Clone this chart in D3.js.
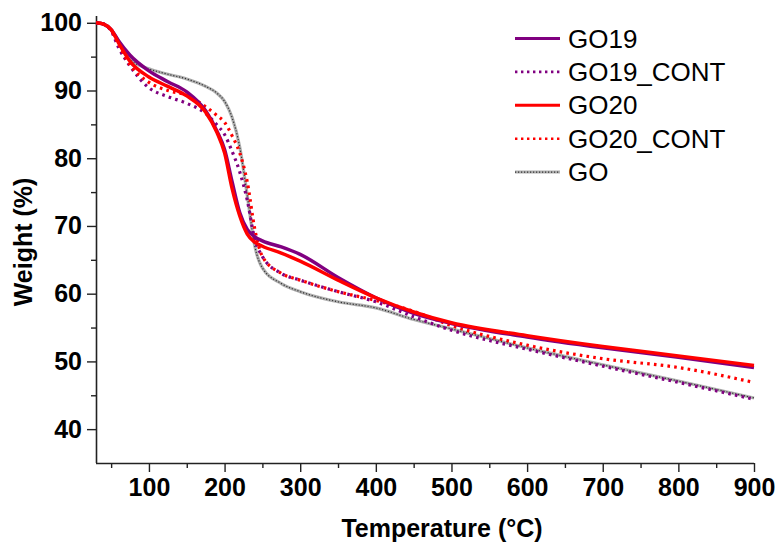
<!DOCTYPE html>
<html>
<head>
<meta charset="utf-8">
<script src="https://cdn.jsdelivr.net/npm/d3@7"></script>
<style>
  html, body { margin: 0; padding: 0; background: #fff; }
  svg { display: block; }
</style>
</head>
<body>
<svg id="chart" width="779" height="543"></svg>
<script>
// ---- data ----
const temperatures = [30, 40, 50, 60, 75, 100, 125, 150, 175, 190, 200, 210, 220, 230, 240, 250, 275, 300, 350, 400, 450, 500, 600, 700, 800, 900];
const go19 =      [100, 99.8, 99.0, 97.3, 95.2, 92.9, 91.3, 89.8, 87.0, 84.0, 81.3, 76.5, 72.0, 69.5, 68.4, 67.8, 66.9, 65.8, 62.4, 59.4, 57.1, 55.6, 53.6, 52.0, 50.6, 49.1];
const go19Cont =  [100, 99.8, 98.8, 96.3, 93.6, 90.4, 89.1, 88.1, 86.6, 84.9, 83.5, 81.0, 78.0, 73.8, 68.0, 65.5, 63.0, 62.0, 60.3, 58.8, 56.6, 54.6, 51.8, 49.3, 46.9, 44.4];
const go20 =      [100, 99.8, 99.0, 97.0, 94.3, 92.0, 90.6, 89.2, 86.8, 83.8, 80.8, 75.5, 71.5, 68.8, 67.6, 67.0, 66.0, 64.8, 62.0, 59.4, 57.3, 55.7, 53.8, 52.2, 50.8, 49.4];
const go20Cont =  [100, 99.8, 98.9, 96.8, 93.8, 91.2, 90.0, 89.3, 87.6, 86.3, 85.3, 83.3, 80.8, 76.5, 69.5, 65.5, 63.0, 62.0, 60.3, 59.0, 57.4, 55.3, 52.4, 50.4, 49.1, 46.9];
const goRef =     [100, 99.8, 99.0, 97.3, 94.6, 93.2, 92.4, 91.7, 90.6, 89.6, 88.4, 86.0, 81.7, 74.5, 67.0, 63.8, 61.5, 60.3, 58.8, 57.9, 56.2, 54.8, 52.0, 49.5, 47.1, 44.6];

const seriesNames = ["GO19", "GO19_CONT", "GO20", "GO20_CONT", "GO"];
const xTicks = [100, 200, 300, 400, 500, 600, 700, 800, 900];
const xMinorTicks = [50, 150, 250, 350, 450, 550, 650, 750, 850];
const yTicks = [40, 50, 60, 70, 80, 90, 100];
const yMinorTicks = [45, 55, 65, 75, 85, 95];

const series = [
  { name: "GO",        values: goRef,    color: "#9a9a9a", kind: "go" },
  { name: "GO19_CONT", values: go19Cont, color: "#800080", kind: "dot" },
  { name: "GO20_CONT", values: go20Cont, color: "#ff0000", kind: "dot" },
  { name: "GO19",      values: go19,     color: "#800080", kind: "solid" },
  { name: "GO20",      values: go20,     color: "#ff0000", kind: "solid" }
];

// ---- layout ----
const svg = d3.select("#chart");
const mLeft = 96, mRight = 754, mTop = 16, mBottom = 463;
const x = d3.scaleLinear().domain([30, 900]).range([mLeft, mRight]);
const y = d3.scaleLinear().domain([35, 101]).range([mBottom, mTop]);

const font = "'Liberation Sans', Arial, Helvetica, sans-serif";

// ---- axes ----
const xAxis = svg.append("g").attr("transform", `translate(0,${mBottom})`)
  .call(d3.axisBottom(x).tickValues(xTicks).tickSize(9).tickPadding(6).tickFormat(d3.format("d")));
const xMinor = svg.append("g").attr("transform", `translate(0,${mBottom})`)
  .call(d3.axisBottom(x).tickValues(xMinorTicks).tickSize(5).tickFormat(""));
const yAxis = svg.append("g").attr("transform", `translate(${mLeft},0)`)
  .call(d3.axisLeft(y).tickValues(yTicks).tickSize(9).tickPadding(5).tickFormat(d3.format("d")));
const yMinor = svg.append("g").attr("transform", `translate(${mLeft},0)`)
  .call(d3.axisLeft(y).tickValues(yMinorTicks).tickSize(5).tickFormat(""));

[xAxis, xMinor, yAxis, yMinor].forEach(g => {
  g.selectAll("path.domain").attr("stroke", "#222").attr("stroke-width", 1.6);
  g.selectAll(".tick line").attr("stroke", "#222").attr("stroke-width", 1.4);
});
xMinor.select("path.domain").remove();
yMinor.select("path.domain").remove();
xAxis.select("path.domain").attr("d", `M${mLeft},0.5H${mRight}`);
yAxis.select("path.domain").attr("d", `M0.5,${mBottom}V${mTop}`);

xAxis.selectAll(".tick text")
  .attr("font-family", font).attr("font-weight", "bold").attr("font-size", 25).attr("fill", "#000");
yAxis.selectAll(".tick text")
  .attr("font-family", font).attr("font-weight", "bold").attr("font-size", 25).attr("fill", "#000");

// ---- axis titles ----
svg.append("text")
  .attr("x", 442).attr("y", 537)
  .attr("text-anchor", "middle")
  .attr("font-family", font).attr("font-weight", "bold").attr("font-size", 25)
  .text("Temperature (°C)");

svg.append("text")
  .attr("transform", "translate(32,242) rotate(-90)")
  .attr("text-anchor", "middle")
  .attr("font-family", font).attr("font-weight", "bold").attr("font-size", 25)
  .text("Weight (%)");

// ---- lines ----
const line = d3.line()
  .x((d, i) => x(temperatures[i]))
  .y(d => y(d))
  .curve(d3.curveMonotoneX);

const plot = svg.append("g");
series.forEach(s => {
  if (s.kind === "go") {
    plot.append("path").attr("d", line(s.values))
      .attr("fill", "none").attr("stroke", "#b0b0b0").attr("stroke-width", 3.2);
    plot.append("path").attr("d", line(s.values))
      .attr("fill", "none").attr("stroke", "#333").attr("stroke-width", 1.2)
      .attr("stroke-dasharray", "1.2,1.8");
  } else if (s.kind === "dot") {
    plot.append("path").attr("d", line(s.values))
      .attr("fill", "none").attr("stroke", s.color).attr("stroke-width", 3.2)
      .attr("stroke-dasharray", "2.6,4.2");
  } else {
    plot.append("path").attr("d", line(s.values))
      .attr("fill", "none").attr("stroke", s.color).attr("stroke-width", 3.5);
  }
});

// ---- legend ----
const legendOrder = seriesNames.map(n => series.find(s => s.name === n));
const legend = svg.append("g");
legendOrder.forEach((s, i) => {
  const cy = 38.5 + i * 33.4;
  const g = legend.append("g");
  if (s.kind === "go") {
    g.append("line").attr("x1", 515).attr("x2", 560).attr("y1", cy).attr("y2", cy)
      .attr("stroke", "#b0b0b0").attr("stroke-width", 3);
    g.append("line").attr("x1", 515).attr("x2", 560).attr("y1", cy).attr("y2", cy)
      .attr("stroke", "#333").attr("stroke-width", 1.2).attr("stroke-dasharray", "1.2,1.8");
  } else if (s.kind === "dot") {
    g.append("line").attr("x1", 515).attr("x2", 560).attr("y1", cy).attr("y2", cy)
      .attr("stroke", s.color).attr("stroke-width", 2.6).attr("stroke-dasharray", "2.4,3.6");
  } else {
    g.append("line").attr("x1", 515).attr("x2", 560).attr("y1", cy).attr("y2", cy)
      .attr("stroke", s.color).attr("stroke-width", 3);
  }
  g.append("text").attr("x", 568).attr("y", cy + 9)
    .attr("font-family", font).attr("font-size", 26).attr("fill", "#000")
    .text(s.name);
});
</script>
</body>
</html>
